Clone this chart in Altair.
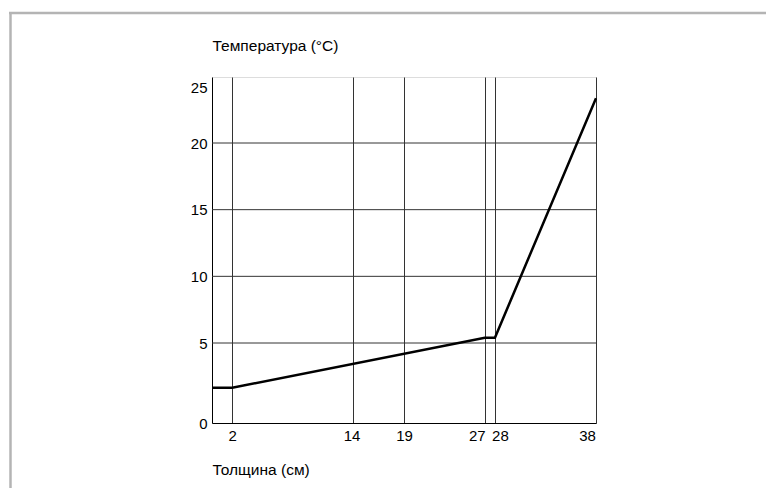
import altair as alt
import pandas as pd

# Data
thickness = [0, 2, 27, 28, 38]
temperature = [2.2, 2.2, 5.4, 5.4, 24.0]
x_ticks = [2, 14, 19, 27, 28, 38]
y_ticks = [0, 5, 10, 15, 20, 25]
y_grid = [5, 10, 15, 20]

FONT = "Liberation Sans"
W, H = 384, 346

line_df = pd.DataFrame({"t": thickness, "temp": temperature})
grid_df = pd.DataFrame({"temp": y_grid})
one = pd.DataFrame({"a": [0]})

# schematic (non-uniform) temperature axis, as in the original drawing
y_scale = alt.Scale(domain=[0, 5, 20, 25, 25.9], range=[346, 266, 66, 10, 0], nice=False, zero=False)
x_scale = alt.Scale(domain=[0, 38], nice=False, zero=False)

y_axis = alt.Axis(
    values=y_ticks, title="Температура (°C)", grid=False, ticks=False, labelPadding=5,
    domainColor="black", domainWidth=1, labelOverlap=False,
    labelFont=FONT, labelFontSize=15, labelColor="black",
    titleFont=FONT, titleFontSize=15.5, titleFontWeight="normal", titleColor="black",
    titleX=0, titleY=-32, titleAlign="left", titleBaseline="middle", titleAngle=0,
)
x_axis = alt.Axis(
    values=x_ticks, title="Толщина (см)", grid=True, gridColor="#333333", gridOpacity=1,
    gridWidth=1, ticks=False, labelPadding=5, domainColor="black", domainWidth=1,
    labelOverlap=False, labelFlush=False,
    labelOffset={"expr": "datum.value == 27 ? -8 : datum.value == 28 ? 5 : datum.value == 38 ? -9 : datum.value == 14 ? -2 : 0"},
    labelFont=FONT, labelFontSize=15, labelColor="black",
    titleFont=FONT, titleFontSize=15.5, titleFontWeight="normal", titleColor="black",
    titleX=0, titleY=46, titleAlign="left", titleBaseline="middle", titleAngle=0,
)

frame_v = alt.Chart(one).mark_rule(color="#b4b4b4", strokeWidth=2.5).encode(
    x=alt.value(-201.5), y=alt.value(-64), y2=alt.value(420)
)
frame_h = alt.Chart(one).mark_rule(color="#b4b4b4", strokeWidth=2.5).encode(
    x=alt.value(-203), x2=alt.value(560), y=alt.value(-64)
)

grid = alt.Chart(grid_df).mark_rule(color="#333333", strokeWidth=1).encode(
    y=alt.Y("temp:Q", scale=y_scale, axis=y_axis)
)

line = alt.Chart(line_df).mark_line(color="black", strokeWidth=2.5).encode(
    x=alt.X("t:Q", scale=x_scale, axis=x_axis),
    y=alt.Y("temp:Q", scale=y_scale, axis=y_axis),
)

chart = alt.layer(frame_v, frame_h, grid, line).properties(
    width=W, height=H,
    autosize=alt.AutoSizeParams(type="none"),
    padding={"left": 204, "top": 69, "right": 170, "bottom": 65},
).configure_view(stroke="black", strokeWidth=1).configure(background="white")

chart.save("out.html", embed_options={"renderer": "svg", "actions": False})
